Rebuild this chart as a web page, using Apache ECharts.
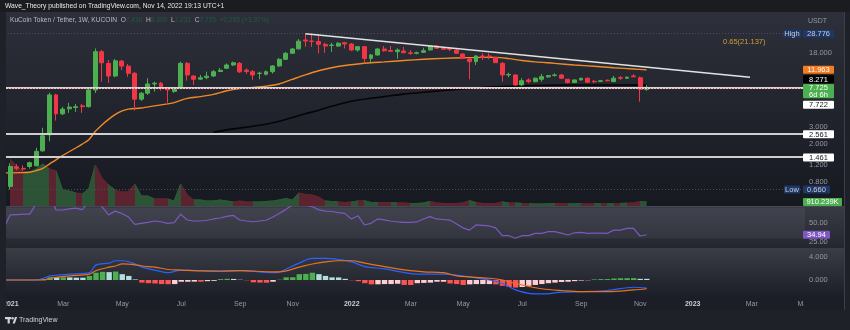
<!DOCTYPE html>
<html>
<head>
<meta charset="utf-8">
<script src="https://cdn.jsdelivr.net/npm/echarts@6.0.0/dist/echarts.min.js"></script>
<style>
html,body{margin:0;padding:0;background:#1f2128;overflow:hidden;}
#chart{width:850px;height:330px;}
</style>
</head>
<body>
<div id="chart"></div>
<script>
// ---------- DATA (weekly bars, week index relative to first bar of 2022 = Jan 3, 2022) ----------
const firstWeek = -52;
const opens  = [0.71,1.14,1.10,1.15,1.17,1.68,2.48,6.52,4.12,4.65,4.80,5.00,4.90,7.36,18.6,14.0,10.3,14.8,13.1,11.0,5.88,6.79,8.50,8.65,7.60,7.10,7.60,14.0,10.3,9.55,9.90,10.3,11.5,12.44,13.46,14.0,11.9,11.45,10.95,10.76,11.45,13.14,15.45,17.87,19.9,24.66,24.07,23.8,22.2,21.6,21.3,23.1,
                22.38,19.36,21.0,15.8,17.15,19.83,19.1,18.6,18.89,18.1,17.85,18.3,19.36,21.32,20.2,20.1,19.36,17.57,15.57,14.6,16.74,16.74,16.2,14.0,10.57,10.57,8.30,9.37,9.0,9.53,10.1,10.45,10.57,9.53,8.78,9.37,9.77,9.07,9.03,9.3,9.0,9.9,9.77,10.32,9.88,7.430];
const highs  = [1.24,1.22,1.18,1.29,1.81,2.94,6.88,6.70,4.88,5.37,5.24,5.24,7.54,20.1,19.36,15.2,15.57,15.2,13.8,11.37,7.01,9.77,9.0,8.93,7.72,7.91,14.6,14.48,10.57,10.57,11.45,11.93,12.52,13.96,14.6,14.48,12.4,11.93,11.45,11.8,13.46,15.95,18.44,20.32,25.26,28.776,27.83,28.51,23.1,23.1,23.49,23.6,
                22.93,21.32,21.32,17.57,20.32,21.32,21.32,20.1,20.9,19.36,18.6,20.45,21.85,21.6,20.81,20.55,19.83,18.0,15.95,17.15,17.87,17.87,16.34,14.48,11.17,10.7,9.77,9.77,9.95,10.83,10.57,11.0,10.83,9.6,9.48,9.83,9.95,9.37,9.37,9.48,10.32,10.32,10.2,10.76,10.2,8.300];
const lows   = [0.66,1.05,1.03,1.09,1.15,1.64,2.12,3.50,4.00,4.22,4.32,4.22,4.80,6.84,9.0,8.71,10.0,11.93,10.1,4.46,5.64,6.52,7.06,7.23,5.37,6.84,7.50,9.2,8.30,9.37,9.53,10.07,11.37,12.22,13.14,11.09,10.83,9.37,9.53,10.45,10.96,12.83,15.19,17.57,19.6,20.9,20.9,17.9,18.1,18.5,20.81,20.1,
                18.89,18.6,14.0,14.0,16.9,18.6,18.6,15.7,18.0,17.15,17.4,18.0,19.1,19.83,19.36,18.89,17.57,15.57,9.53,13.46,15.19,15.45,14.13,9.0,10.0,8.10,8.10,8.65,8.82,9.0,9.83,10.15,9.6,8.6,8.71,9.25,8.71,8.65,8.93,9.03,8.93,9.37,9.6,10.07,5.54,7.231];
const closes = [1.15,1.10,1.08,1.26,1.66,2.42,6.52,4.12,4.62,4.85,4.90,4.90,7.36,18.6,14.2,10.3,14.9,13.1,11.0,5.88,6.79,8.50,8.65,7.85,7.36,7.60,14.0,10.57,9.52,9.88,10.27,11.45,11.85,13.46,14.2,11.4,11.5,10.57,11.05,11.45,13.14,15.45,17.87,19.83,24.0,24.07,23.8,22.2,21.3,21.85,22.8,22.4,
                19.36,21.0,15.8,17.15,19.83,19.0,18.75,19.36,18.1,17.85,18.1,19.05,21.32,20.2,19.7,19.7,17.87,15.8,14.6,16.74,16.2,16.45,14.23,10.57,10.7,8.30,9.2,9.0,9.77,10.15,10.4,10.57,9.77,8.78,9.37,9.77,8.87,8.96,9.18,9.18,9.77,9.77,10.0,10.1,7.43,7.725];
const volumesK = [10716,9120,7752,7752,8436,9576,8436,7980,3648,3420,2964,2736,3876,9348,6384,4788,3648,3192,3192,5016,2280,2280,1596,1596,1596,1140,5016,2508,1368,1368,1140,1140,1368,1140,912,1140,912,912,912,1026,1140,1368,1710,1368,2964,2622,2508,2052,1140,1026,912,798,
                  912,1140,1208,798,798,798,798,684,684,570,570,684,1026,684,570,570,570,684,1208,798,570,570,570,912,684,684,570,502,456,456,502,570,524,456,502,547,456,502,570,524,502,570,638,684,1026,910.239];

const emaWeeks  = [-53,-50,-49,-48,-47,-46,-45,-44,-42,-41,-40,-39,-38,-37,-36,-35,-34,-32,-30,-28,-27,-25,-23,-21,-19,-17,-15,-13,-11,-9,-7,-5,-3,-1,1,3,5,8,11,14,17,20,22,24,26,28,31,34,37,40,43,45];
const emaValues = [0.985,0.99,1.0,1.04,1.10,1.22,1.35,1.50,1.80,1.98,2.20,2.70,3.15,3.60,4.05,4.40,4.62,4.75,5.0,5.25,5.40,6.0,6.25,6.60,7.20,7.60,7.80,8.05,8.50,9.50,10.6,11.7,12.6,13.3,13.8,14.2,14.5,15.0,15.45,15.8,16.05,16.2,16.2,15.7,15.0,14.5,14.0,13.46,13.05,12.6,12.2,11.963];
const smaWeeks  = [-21,-18,-15,-13,-10,-7,-5,-3,0,3,5,8,11,14,16,19,21,25,28,32,36,40,45];
const smaValues = [2.64,2.86,3.05,3.2,3.6,4.12,4.5,4.95,5.6,6.0,6.25,6.65,6.95,7.25,7.45,7.72,7.87,8.10,8.2,8.27,8.3,8.3,8.271];
const trendWeeks  = [-7, 60.75];
const trendValues = [28.776, 9.98];
const levelLines  = [7.722, 2.561, 1.461];
const highLevel = 28.776, lowLevel = 0.660;
const fibText = '0.65(21.137)';

const rsiFirstWeek = -53;
const rsiValues = [43,61,61.5,62,62,76,84,90,67.5,67.5,69,70,68,78,88,72,61,66,63,58.7,48.7,50,51.3,53,52,50,51,62,54.3,53,53,54,55.7,57,59,60.5,54.3,53,52,53,54,58,63,68,74,80,74,72,68,66,65.5,64,63,
                   55.7,60,47.8,50,55.7,54.5,53,52,51.3,51.3,52,55.7,58.7,55.7,55,54.3,49.5,44,41,47.8,47.2,46.5,44,33.7,33.7,30.3,33.7,33.7,36.8,36.8,39,39,37,34.6,37.5,38,36.8,37,37,36.8,41,41,43.4,43.4,33.3,34.94];
const macdWeeks  = [-53,-48,-47,-46,-43,-40,-39,-37,-36,-35,-33,-32,-30,-28,-26,-23,-20,-17,-12,-11,-8,-6,-4,-2,0,2,5,9,11,14,16,21,23,25,27,29,32,35,39,43,45];
const macdValues = [0,0,0.3,0.7,1.0,1.25,2.6,2.9,3.3,3.3,2.75,2.2,1.7,1.25,1.7,1.6,1.55,1.6,1.25,1.4,2.9,3.7,3.7,3.5,3.1,2.3,1.9,1.1,1.0,1.0,0.85,0,-0.6,-1.7,-2.3,-2.4,-2.1,-2.0,-1.8,-1.25,-1.4];
const signalWeeks  = [-53,-47,-46,-43,-40,-39,-37,-36,-35,-33,-32,-30,-28,-26,-23,-20,-17,-12,-11,-8,-6,-4,-2,0,2,5,9,11,14,16,21,23,25,27,29,32,35,39,43,45];
const signalValues = [0,0,0.3,0.7,1.0,1.6,2.2,2.4,2.75,2.6,2.4,2.2,1.8,1.7,1.55,1.5,1.6,1.4,1.4,2.2,2.75,3.1,3.3,3.3,2.9,2.3,1.6,1.4,1.25,0.7,0.3,0,-0.6,-1.1,-1.5,-1.8,-2.0,-2.0,-1.7,-1.5];
const histValues = [0,0,0,0.02,0.05,0.15,0.45,0.45,0.46,0.45,0.4,0.4,0.7,1.25,1.4,1.35,1.45,1.0,0.7,0.1,-0.45,-0.55,-0.6,-0.7,-0.72,-0.7,-0.3,-0.3,-0.28,-0.3,-0.2,-0.15,0.15,0.2,0.18,0.05,-0.05,-0.4,-0.45,-0.46,-0.3,0.05,0.45,0.47,1.0,1.05,1.25,1.0,0.7,0.45,0.44,0.2,
                    -0.05,-0.2,-0.55,-0.75,-0.74,-0.7,-0.7,-0.65,-0.85,-0.86,-0.55,-0.5,-0.45,-0.3,-0.3,-0.6,-0.7,-0.85,-0.75,-0.7,-0.7,-0.7,-0.75,-1.0,-1.2,-1.3,-1.2,-1.0,-0.85,-0.7,-0.55,-0.45,-0.35,-0.3,-0.2,-0.1,-0.05,0.1,0.15,0.16,0.25,0.3,0.31,0.32,0.2,0.2];

const monthTickWeeks  = [-52,-44,-35,-26,-17,-9,0,9,17,26,35,44,52,61,69];
const monthTickLabels = ['2021','Mar','May','Jul','Sep','Nov','2022','Mar','May','Jul','Sep','Nov','2023','Mar','May'];
const priceTicks = [18, 3, 2, 1.2, 0.8];
const rsiTicks = [50, 25];
const macdTicks = [4, 0];

// ---------- CHART ----------
const FONT = "'Liberation Sans', Arial, sans-serif";
const AXIS_TXT = '#9598a1';
const UP = '#4caf50', DOWN = '#f23645';
const VOL_UP = '#2d5636', VOL_DOWN = '#5e2430';
const xMin = -52.77, xMax = 69.13;

const weeks = closes.map((_, i) => firstWeek + i);
const candleData = weeks.map((w, i) => [w, opens[i], closes[i], lows[i], highs[i]]);
const volData = weeks.map((w, i) => [w, volumesK[i]]);
const emaData = emaWeeks.map((w, i) => [w, emaValues[i]]);
const smaData = smaWeeks.map((w, i) => [w, smaValues[i]]);
const trendData = trendWeeks.map((w, i) => [w, trendValues[i]]);
const rsiData = rsiValues.map((v, i) => [rsiFirstWeek + i, v]);
const macdData = macdWeeks.map((w, i) => [w, macdValues[i]]);
const signalData = signalWeeks.map((w, i) => [w, signalValues[i]]);
const histData = weeks.map((w, i) => {
  const v = histValues[i], p = i > 0 ? histValues[i - 1] : 0;
  let c;
  if (v >= 0) c = v > p ? '#4caf50' : '#b2dfdb';
  else c = v < p ? '#ff5252' : '#ffcdd2';
  return {value: [w, v], itemStyle: {color: c}};
});
const volPieces = weeks.map((w, i) => ({gt: w - 1, lte: w, color: closes[i] >= opens[i] ? VOL_UP : VOL_DOWN}));

const chart = echarts.init(document.getElementById('chart'), null, {renderer: 'canvas', width: 850, height: 330});

const xAxes = [0, 1, 2, 3].map(i => ({
  type: 'value', gridIndex: i, min: xMin, max: xMax,
  axisLine: {show: false}, axisTick: {show: false}, splitLine: {show: false},
  axisLabel: {show: false}
}));
xAxes[3].axisLabel = {
  show: true, customValues: monthTickWeeks, margin: 4, fontSize: 7, fontFamily: FONT, color: AXIS_TXT,
  formatter: v => {
    const t = monthTickLabels[monthTickWeeks.indexOf(v)];
    return /^\d{4}$/.test(t) ? '{y|' + t + '}' : t;
  },
  rich: {y: {color: '#c9ccd4', fontWeight: 'bold', fontSize: 7, fontFamily: FONT}}
};

const yLab = (vals, fmt) => ({show: true, customValues: vals, formatter: fmt, color: AXIS_TXT, fontSize: 7.5, fontFamily: FONT, margin: 4});

const option = {
  backgroundColor: '#1f2128',
  animation: false,
  grid: [
    {left: 5, width: 800, top: 30, height: 176},
    {left: 5, width: 800, top: 140, height: 66},
    {left: 5, width: 800, top: 206.5, height: 41.5},
    {left: 5, width: 800, top: 248, height: 49}
  ],
  xAxis: xAxes,
  yAxis: [
    {type: 'log', logBase: 10, gridIndex: 0, min: 0.4413, max: 31.43, position: 'right',
     axisLine: {show: false}, axisTick: {show: false}, splitLine: {show: false},
     axisLabel: yLab(priceTicks, v => v.toFixed(3)), z: 3},
    {type: 'value', gridIndex: 1, min: 0, max: 15048, show: false},
    {type: 'value', gridIndex: 2, min: 17.5, max: 72.1, position: 'right',
     axisLine: {show: false}, axisTick: {show: false}, splitLine: {show: false},
     axisLabel: yLab(rsiTicks, v => v.toFixed(2))},
    {type: 'value', gridIndex: 3, min: -2.92, max: 5.49, position: 'right',
     axisLine: {show: false}, axisTick: {show: false}, splitLine: {show: false},
     axisLabel: yLab(macdTicks, v => v.toFixed(3))}
  ],
  visualMap: [{
    type: 'piecewise', show: false, dimension: 0, seriesIndex: 0,
    pieces: volPieces, outOfRange: {color: VOL_UP}
  }],
  series: [
    {type: 'line', name: 'Volume', xAxisIndex: 1, yAxisIndex: 1, data: volData, symbol: 'none',
     lineStyle: {width: 1}, areaStyle: {opacity: 0.95}, silent: true, z: 1},
    {type: 'line', name: 'EMA', xAxisIndex: 0, yAxisIndex: 0, data: emaData, symbol: 'none', smooth: 0.3,
     lineStyle: {color: '#f08a24', width: 1.4}, silent: true, z: 3},
    {type: 'line', name: 'SMA', xAxisIndex: 0, yAxisIndex: 0, data: smaData, symbol: 'none', smooth: 0.3,
     lineStyle: {color: '#050505', width: 1.6}, silent: true, z: 3},
    {type: 'candlestick', name: 'KCS', xAxisIndex: 0, yAxisIndex: 0, data: candleData,
     encode: {x: 0, y: [1, 2, 3, 4]}, barWidth: 4.4,
     itemStyle: {color: UP, color0: DOWN, borderColor: UP, borderColor0: DOWN, borderWidth: 1},
     z: 4,
     markLine: {
       silent: true, symbol: 'none', label: {show: false}, animation: false,
       data: [
         {yAxis: highLevel, lineStyle: {color: '#4a4e59', width: 1, type: [1, 2]}},
         {yAxis: lowLevel, lineStyle: {color: '#4a4e59', width: 1, type: [1, 2]}},
         {yAxis: levelLines[0], lineStyle: {color: '#d6d6d6', width: 2, type: 'solid'}},
         {yAxis: levelLines[1], lineStyle: {color: '#cfcfcf', width: 2, type: 'solid'}},
         {yAxis: levelLines[2], lineStyle: {color: '#cfcfcf', width: 2, type: 'solid'}},
         {yAxis: closes[closes.length - 1], lineStyle: {color: '#f23645', width: 1, type: [1, 2], opacity: 0.8}}
       ]
     }},
    {type: 'line', name: 'Trend', xAxisIndex: 0, yAxisIndex: 0, data: trendData, symbol: 'none',
     lineStyle: {color: '#e2e2e2', width: 1.5}, silent: true, z: 5},
    {type: 'line', name: 'RSI', xAxisIndex: 2, yAxisIndex: 2, data: rsiData, symbol: 'none',
     lineStyle: {color: '#7e57c2', width: 1.2}, silent: true,
     markArea: {silent: true, itemStyle: {color: 'rgba(200,205,220,0.07)'}, data: [[{yAxis: 70}, {yAxis: 30}]]}},
    {type: 'bar', name: 'Histogram', xAxisIndex: 3, yAxisIndex: 3, data: histData, barWidth: 5.4, silent: true},
    {type: 'line', name: 'MACD', xAxisIndex: 3, yAxisIndex: 3, data: macdData, symbol: 'none', smooth: 0.35,
     lineStyle: {color: '#2962ff', width: 1.2}, silent: true, z: 3},
    {type: 'line', name: 'Signal', xAxisIndex: 3, yAxisIndex: 3, data: signalData, symbol: 'none', smooth: 0.35,
     lineStyle: {color: '#e8731c', width: 1.2}, silent: true, z: 3}
  ]
};
chart.setOption(option);

// ---------- overlay graphics (backgrounds, header, axis tags) ----------
const grad = (c0, c1) => new echarts.graphic.LinearGradient(0, 0, 0, 1, [{offset: 0, color: c0}, {offset: 1, color: c1}]);
const py = v => chart.convertToPixel({yAxisIndex: 0}, v);
const vy = v => chart.convertToPixel({yAxisIndex: 1}, v);
const ry = v => chart.convertToPixel({yAxisIndex: 2}, v);
const last = closes.length - 1;

function tag(x, yc, w, text, bg, fg, h) {
  h = h || 8;
  return [
    {type: 'rect', z: 60, shape: {x: x, y: yc - h / 2, width: w, height: h, r: 1}, style: {fill: bg}},
    {type: 'text', z: 61, style: {x: x + w / 2, y: yc + 0.3, text: text, fill: fg, font: '7.5px ' + FONT, align: 'center', verticalAlign: 'middle'}}
  ];
}

const els = [
  // backgrounds
  {type: 'rect', z: -20, shape: {x: 0, y: 0, width: 850, height: 12}, style: {fill: '#1b1c20'}},
  {type: 'rect', z: -20, shape: {x: 5, y: 12, width: 839, height: 194}, style: {fill: grad('#2d303a', '#161920')}},
  {type: 'rect', z: -20, shape: {x: 5, y: 206, width: 839, height: 42}, style: {fill: grad('#383b44', '#24272e')}},
  {type: 'rect', z: -20, shape: {x: 5, y: 248, width: 839, height: 49}, style: {fill: grad('#3a3d46', '#1b1e26')}},
  {type: 'rect', z: -20, shape: {x: 5, y: 297, width: 839, height: 13}, style: {fill: '#1b1e26'}},
  {type: 'line', z: -19, shape: {x1: 5, y1: 206.5, x2: 844, y2: 206.5}, style: {stroke: '#454852', lineWidth: 1}},
  {type: 'line', z: -19, shape: {x1: 844.5, y1: 12, x2: 844.5, y2: 310}, style: {stroke: '#3c3f49', lineWidth: 1}},
  // clipping overlays for the time axis strip
  {type: 'rect', z: 40, shape: {x: 0, y: 12, width: 6, height: 300}, style: {fill: '#1f2128'}},
  {type: 'rect', z: 40, shape: {x: 803.5, y: 297, width: 40.5, height: 13}, style: {fill: '#1b1e26'}},
  // header
  {type: 'text', z: 50, style: {x: 5, y: 6.5, text: 'Wave_Theory published on TradingView.com, Nov 14, 2022 19:13 UTC+1', fill: '#e8e8e8', font: '6.7px ' + FONT, verticalAlign: 'middle'}},
  {type: 'text', z: 50, style: {x: 10, y: 20.5, verticalAlign: 'middle', font: '6.6px ' + FONT,
    text: '{n|KuCoin Token / Tether, 1W, KUCOIN}  {k|O}{v|' + opens[last].toFixed(3) + '}  {k|H}{v|' + highs[last].toFixed(3) + '}  {k|L}{v|' + lows[last].toFixed(3) + '}  {k|C}{v|' + closes[last].toFixed(3) + '}  {v|+' + (closes[last] - closes[last - 1]).toFixed(3) + ' (+' + ((closes[last] / closes[last - 1] - 1) * 100).toFixed(2) + '%)}',
    rich: {n: {fill: '#b8bbc3', font: '6.6px ' + FONT}, k: {fill: '#b8bbc3', font: '6.6px ' + FONT}, v: {fill: '#22593f', font: '6.6px ' + FONT}}}},
  {type: 'text', z: 50, style: {x: 808, y: 21.5, text: 'USDT', fill: AXIS_TXT, font: '7px ' + FONT, verticalAlign: 'middle'}},
  {type: 'text', z: 50, style: {x: 723, y: 42, text: fibText, fill: '#c9a230', font: '7.5px ' + FONT, verticalAlign: 'middle'}},
  // TradingView logo
  {type: 'rect', z: 50, shape: {x: 5, y: 317, width: 6, height: 2.2}, style: {fill: '#d1d4dc'}},
  {type: 'rect', z: 50, shape: {x: 7.6, y: 317, width: 2.2, height: 6.5}, style: {fill: '#d1d4dc'}},
  {type: 'circle', z: 50, shape: {cx: 12.6, cy: 318.2, r: 1.2}, style: {fill: '#d1d4dc'}},
  {type: 'polygon', z: 50, shape: {points: [[12.6, 323.5], [15, 317], [17.2, 317], [14.8, 323.5]]}, style: {fill: '#d1d4dc'}},
  {type: 'text', z: 50, style: {x: 19, y: 320.5, text: 'TradingView', fill: '#d1d4dc', font: '7px ' + FONT, verticalAlign: 'middle'}}
];

const tags = [].concat(
  tag(783, py(highLevel), 18, 'High', '#1d3767', '#c9cdd6'),
  tag(803, py(highLevel), 31, highLevel.toFixed(3), '#1d3767', '#c9cdd6'),
  tag(784, py(lowLevel), 16, 'Low', '#1d3767', '#c9cdd6'),
  tag(803, py(lowLevel), 27, lowLevel.toFixed(3), '#1d3767', '#c9cdd6'),
  tag(803, py(emaValues[emaValues.length - 1]), 31, emaValues[emaValues.length - 1].toFixed(3), '#f57c1f', '#ffffff'),
  tag(803, py(smaValues[smaValues.length - 1]) - 5.8, 31, smaValues[smaValues.length - 1].toFixed(3), '#000000', '#ffffff'),
  [{type: 'rect', z: 60, shape: {x: 803, y: py(closes[last]) - 4, width: 31, height: 14.3, r: 1}, style: {fill: '#4caf50'}},
   {type: 'text', z: 61, style: {x: 818.5, y: py(closes[last]) + 0.2, text: closes[last].toFixed(3), fill: '#ffffff', font: '7.5px ' + FONT, align: 'center', verticalAlign: 'middle'}},
   {type: 'text', z: 61, style: {x: 818.5, y: py(closes[last]) + 7, text: '6d 6h', fill: '#ffffff', font: '7.5px ' + FONT, align: 'center', verticalAlign: 'middle'}}],
  tag(803, py(levelLines[0]) + 16.8, 31, levelLines[0].toFixed(3), '#ffffff', '#131722'),
  tag(803, py(levelLines[1]) + 0.8, 31, levelLines[1].toFixed(3), '#ffffff', '#131722'),
  tag(803, py(levelLines[2]) + 0.8, 31, levelLines[2].toFixed(3), '#ffffff', '#131722'),
  tag(803, vy(volumesK[last]), 39, volumesK[last].toFixed(3) + 'K', '#4caf50', '#ffffff'),
  tag(803, ry(rsiValues[rsiValues.length - 1]), 27, rsiValues[rsiValues.length - 1].toFixed(2), '#7e57c2', '#ffffff')
);

chart.setOption({graphic: {elements: els.concat(tags)}});
</script>
</body>
</html>
